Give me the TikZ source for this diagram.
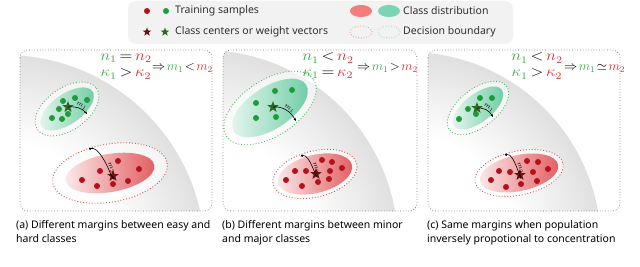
\documentclass[tikz,border=0pt]{standalone}
\usepackage{graphicx}
\usepackage{fontspec}
\setmainfont{Noto Sans}
\usetikzlibrary{shapes.geometric,arrows.meta}
\definecolor{gtxt}{HTML}{3DAA45}
\definecolor{rtxt}{HTML}{D03333}
\definecolor{gdot}{HTML}{1E9C3C}
\definecolor{rdot}{HTML}{B3121C}
\definecolor{gstar}{HTML}{2A6A1E}
\definecolor{rstar}{HTML}{6E1010}
\definecolor{gfill}{HTML}{6CCBA2}
\definecolor{rfill}{HTML}{E05558}
\definecolor{lgbg}{HTML}{F2F2F2}
\definecolor{lgr}{HTML}{F47C7C}
\definecolor{lgg}{HTML}{7DD4B4}
\definecolor{legtxt}{HTML}{303030}
\newcommand{\eqL}[1]{\scalebox{1.4}[1.25]{$\thickmuskip=3mu #1$}}
\newcommand{\eqR}[1]{\scalebox{1.1}[1.1]{$\thickmuskip=2mu #1$}}
\pgfdeclareradialshading{sphere}{\pgfpoint{0bp}{0bp}}{color(0bp)=(white); color(14bp)=(white); color(50bp)=(black!40)}
\tikzset{
  gdotS/.style={circle, fill=gdot, inner sep=0pt, minimum size=6pt},
  rdotS/.style={circle, fill=rdot, inner sep=0pt, minimum size=6pt},
  gstarS/.style={star, star points=5, star point ratio=2.4, fill=gstar, inner sep=0pt, minimum size=12pt},
  rstarS/.style={star, star points=5, star point ratio=2.4, fill=rstar, inner sep=0pt, minimum size=12pt},
  panelS/.style={draw=black!55, dotted, rounded corners=8pt, line width=0.7pt},
  gbound/.style={draw=gdot!75, dotted, line width=0.9pt},
  rbound/.style={draw=rtxt!85, dotted, line width=0.9pt},
  halo/.style={fill=white, fill opacity=0.6},
  gshade/.style={left color=gfill!15, right color=gfill},
  rshade/.style={left color=rfill!12, right color=rfill!95},
  marginA/.style={-{Stealth[length=3pt,width=2.5pt]}, line width=0.6pt},
  marginB/.style={-{Circle[length=2.2pt]}, line width=0.6pt},
  mlabel/.style={font=\fontsize{7}{7}\selectfont, inner sep=0.5pt},
  eq/.style={font=\fontsize{12}{12}\selectfont, inner sep=0pt},
  captext/.style={font=\fontsize{10.5}{14}\selectfont, anchor=north west, align=left, inner sep=0pt},
  leg/.style={font=\fontsize{10.5}{10.5}\selectfont, anchor=west, inner sep=0pt, text=legtxt},
}
\begin{document}
\begin{tikzpicture}[x=1pt,y=-1pt]
\useasboundingbox (0,0) rectangle (640,267);

% ---------------- legend ----------------
\fill[lgbg, rounded corners=8pt] (128,1) rectangle (513,44);
\node[rdotS] (l-rd) at (147,11) {};
\node[gdotS] (l-gd) at (166,11) {};
\node[leg] (l-t1) at (175,11) {Training samples};
\node[rstarS, minimum size=9pt] (l-rs) at (147,32) {};
\node[gstarS, minimum size=9pt] (l-gs) at (165,32) {};
\node[leg] (l-t2) at (175,32) {Class centers or weight vectors};
\node[ellipse, fill=lgr, minimum width=22pt, minimum height=12pt, inner sep=0pt] (l-re) at (361,11) {};
\node[ellipse, fill=lgg, minimum width=22pt, minimum height=12pt, inner sep=0pt] (l-ge) at (389,11) {};
\node[leg] (l-t3) at (403,11) {Class distribution};
\node[ellipse, draw=lgr, dotted, line width=0.7pt, minimum width=22pt, minimum height=12pt, inner sep=0pt] (l-rb) at (361,32) {};
\node[ellipse, draw=lgg, dotted, line width=0.7pt, minimum width=22pt, minimum height=12pt, inner sep=0pt] (l-gb) at (389,32) {};
\node[leg] (l-t4) at (403,32) {Decision boundary};

% ---------------- panel (a) ----------------
\begin{scope}
  \clip[rounded corners=8pt] (20,50) rectangle (212,211);
  \shade[shading=sphere] (5,255) circle (200);
\end{scope}
\draw[panelS] (20,50) rectangle (212,211);
\begin{scope}[shift={(67,109)}, rotate=35]
  \fill[halo] (0,0) ellipse (36 and 21);
  \shade[gshade] (0,0) ellipse (31 and 15);
  \draw[gbound] (0,0) ellipse (36 and 21);
\end{scope}
\begin{scope}[shift={(110,173)}, rotate=10]
  \fill[halo] (0,0) ellipse (58 and 29);
  \shade[rshade] (0,0) ellipse (45 and 19);
  \draw[rbound] (0,0) ellipse (58 and 29);
\end{scope}
\foreach \p [count=\i] in {(63,101),(75,98),(87,100),(59,109),(68,114),(52,118),(62,119)}
  \node[gdotS] (a-g\i) at \p {};
\foreach \p [count=\i] in {(118,161),(100,171),(139,169),(82,180),(97,186),(113,184),(128,181)}
  \node[rdotS] (a-r\i) at \p {};
\node[gstarS] (a-gs) at (68,107) {};
\node[rstarS] (a-rs) at (113,176) {};
\coordinate (a-m1) at (87,114);
\coordinate (a-m2) at (89,149);
\draw[marginA] (a-gs.center) to[out=5, in=130] node[mlabel, sloped, above, pos=0.6] {$m_1$} (a-m1);
\draw[marginB] (a-rs.center) to[out=-80, in=15] node[mlabel, sloped, above, pos=0.45] {$m_2$} (a-m2);
\node[eq] (a-e1) at (126,58) {\eqL{\textcolor{gtxt}{n_1} = \textcolor{rtxt}{n_2}}};
\node[eq] (a-e2) at (126,74) {\eqL{\textcolor{gtxt}{\kappa_1} > \textcolor{rtxt}{\kappa_2}}};
\node[eq, anchor=west] (a-e3) at (152,68) {\eqR{\Rightarrow \textcolor{gtxt}{m_1} < \textcolor{rtxt}{m_2}}};
\node[captext] (a-c) at (16,220) {(a) Different margins between easy and\\hard classes};

% ---------------- panel (b) ----------------
\begin{scope}
  \clip[rounded corners=8pt] (223,50) rectangle (417,211);
  \shade[shading=sphere] (203,245) circle (195);
\end{scope}
\draw[panelS] (223,50) rectangle (417,211);
\begin{scope}[shift={(270,108)}, rotate=33]
  \fill[halo] (0,0) ellipse (52 and 28);
  \shade[gshade] (0,0) ellipse (43 and 21);
  \draw[gbound] (0,0) ellipse (52 and 28);
\end{scope}
\begin{scope}[shift={(315,174)}, rotate=14]
  \fill[halo] (0,0) ellipse (43 and 23);
  \shade[rshade] (0,0) ellipse (38 and 19);
  \draw[rbound] (0,0) ellipse (43 and 23);
\end{scope}
\foreach \p [count=\i] in {(275,91),(292,90),(256,103),(256,118),(276,117)}
  \node[gdotS] (b-g\i) at \p {};
\foreach \p [count=\i] in {(322,160),(332,162),(295,171),(306,171),(330,171),(342,168),(286,180),(318,182),(329,179),(302,186)}
  \node[rdotS] (b-r\i) at \p {};
\node[gstarS] (b-gs) at (273,107) {};
\node[rstarS] (b-rs) at (316,174) {};
\coordinate (b-m1) at (296,121);
\coordinate (b-m2) at (301,156);
\draw[marginA] (b-gs.center) to[out=5, in=120] node[mlabel, sloped, above, pos=0.55] {$m_1$} (b-m1);
\draw[marginB] (b-rs.center) to[out=-80, in=15] node[mlabel, sloped, above, pos=0.45] {$m_2$} (b-m2);
\node[eq] (b-e1) at (328,58) {\eqL{\textcolor{gtxt}{n_1} < \textcolor{rtxt}{n_2}}};
\node[eq] (b-e2) at (328,74) {\eqL{\textcolor{gtxt}{\kappa_1} = \textcolor{rtxt}{\kappa_2}}};
\node[eq, anchor=west] (b-e3) at (357,68) {\eqR{\Rightarrow \textcolor{gtxt}{m_1} > \textcolor{rtxt}{m_2}}};
\node[captext] (b-c) at (222,220) {(b) Different margins between minor\\and major classes};

% ---------------- panel (c) ----------------
\begin{scope}
  \clip[rounded corners=8pt] (428,50) rectangle (620,211);
  \shade[shading=sphere] (408,245) circle (193);
\end{scope}
\draw[panelS] (428,50) rectangle (620,211);
\begin{scope}[shift={(478,108)}, rotate=38]
  \fill[halo] (0,0) ellipse (36 and 19);
  \shade[gshade] (0,0) ellipse (30 and 14);
  \draw[gbound] (0,0) ellipse (36 and 19);
\end{scope}
\begin{scope}[shift={(519,173)}, rotate=12]
  \fill[halo] (0,0) ellipse (45 and 22);
  \shade[rshade] (0,0) ellipse (40 and 18);
  \draw[rbound] (0,0) ellipse (45 and 22);
\end{scope}
\foreach \p [count=\i] in {(480,98),(492,98),(468,109),(476,114),(459,119)}
  \node[gdotS] (c-g\i) at \p {};
\foreach \p [count=\i] in {(527,161),(538,162),(499,171),(510,172),(533,172),(548,169),(491,180),(521,184),(537,181),(506,187)}
  \node[rdotS] (c-r\i) at \p {};
\node[gstarS] (c-gs) at (477,108) {};
\node[rstarS] (c-rs) at (520,175) {};
\coordinate (c-m1) at (493,117);
\coordinate (c-m2) at (505,155);
\draw[marginA] (c-gs.center) to[out=5, in=120] node[mlabel, sloped, above, pos=0.55] {$m_1$} (c-m1);
\draw[marginB] (c-rs.center) to[out=-80, in=15] node[mlabel, sloped, above, pos=0.45] {$m_2$} (c-m2);
\node[eq] (c-e1) at (537,58) {\eqL{\textcolor{gtxt}{n_1} < \textcolor{rtxt}{n_2}}};
\node[eq] (c-e2) at (537,74) {\eqL{\textcolor{gtxt}{\kappa_1} > \textcolor{rtxt}{\kappa_2}}};
\node[eq, anchor=west] (c-e3) at (564,68) {\eqR{\Rightarrow \textcolor{gtxt}{m_1} \simeq \textcolor{rtxt}{m_2}}};
\node[captext] (c-c) at (427,220) {(c) Same margins when population\\inversely propotional to concentration};
\end{tikzpicture}
\end{document}
